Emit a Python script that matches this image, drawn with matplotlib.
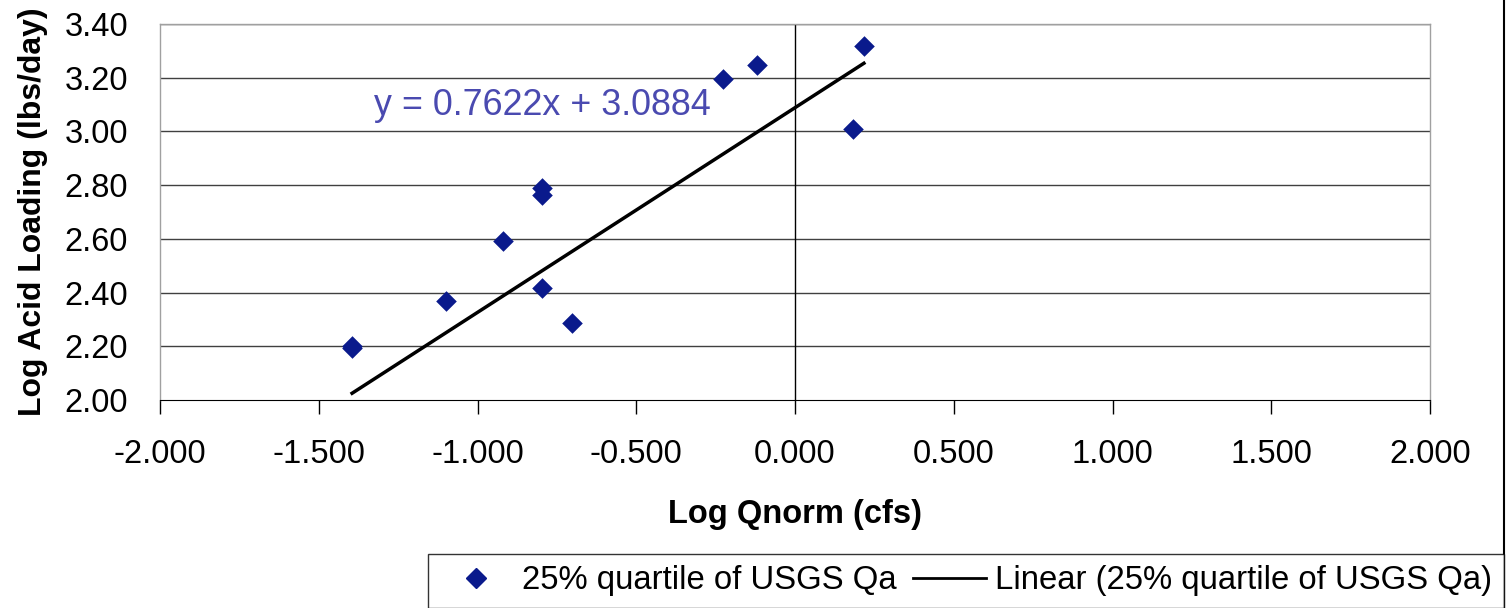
import numpy as np
import matplotlib
matplotlib.use("Agg")
import matplotlib.pyplot as plt
from matplotlib.lines import Line2D

plt.rcParams["font.family"] = ["Liberation Sans", "DejaVu Sans"]

# data
log_q = [-1.395, -1.395, -1.099, -0.921, -0.798, -0.798, -0.798, -0.701,
         -0.226, -0.121, 0.182, 0.217]
log_load = [2.201, 2.194, 2.369, 2.592, 2.788, 2.763, 2.418, 2.286,
            3.195, 3.248, 3.010, 3.319]
slope = 0.7622
intercept = 3.0884

x_ticks = [-2.0, -1.5, -1.0, -0.5, 0.0, 0.5, 1.0, 1.5, 2.0]
y_ticks = [2.0, 2.2, 2.4, 2.6, 2.8, 3.0, 3.2, 3.4]

W, H = 1507, 608
fig = plt.figure(figsize=(W / 100, H / 100), dpi=100)
ax = fig.add_axes([160 / W, 1 - 400 / H, (1430 - 160) / W, (400 - 24) / H])

navy = "#0A1A8C"

# gridlines
for yv in y_ticks[1:]:
    ax.axhline(yv, color="#404040", lw=1.0, zorder=1)
ax.axvline(0, color="black", lw=1.0, zorder=1)

# trendline evaluated at the sorted data x values
xs = np.sort(np.array(log_q))
ax.plot(xs, slope * xs + intercept, color="black", lw=2.5, zorder=2)

ax.scatter(log_q, log_load, marker="D", s=110, color=navy, zorder=3,
           linewidths=0)

ax.text(-1.325, 3.095, "y = 0.7622x + 3.0884", color="#4A4AB0", fontsize=25.8,
        va="center", ha="left")

ax.set_xlim(-2, 2)
ax.set_ylim(2.0, 3.4)
ax.set_xticks(x_ticks)
ax.set_xticklabels([f"{v:.3f}" for v in x_ticks], fontsize=23.5)
ax.set_yticks(y_ticks)
ax.set_yticklabels([f"{v:.2f}" for v in y_ticks], fontsize=23.5)
ax.tick_params(axis="x", length=10, width=1, pad=18, direction="out")
ax.tick_params(axis="y", length=0, pad=23)

for side in ["left", "top", "right"]:
    ax.spines[side].set_color("#A0A0A0")
    ax.spines[side].set_linewidth(1.0)
ax.spines["bottom"].set_color("black")

ax.set_xlabel("Log Qnorm (cfs)", fontsize=23.5, fontweight="bold", labelpad=21)
ax.set_ylabel("Log Acid Loading (lbs/day)", fontsize=23, fontweight="bold",
              labelpad=12)

handles = [
    Line2D([], [], marker="D", color=navy, ls="none", markersize=10),
    Line2D([], [], color="black", lw=2),
]
labels = ["25% quartile of USGS Qa", "Linear (25% quartile of USGS Qa)"]
leg = fig.legend(handles, labels, ncol=2, loc="lower right",
                 bbox_to_anchor=(1504 / W, 0.0), fontsize=23.7, frameon=True,
                 fancybox=False, edgecolor="black", handlelength=2.2,
                 columnspacing=0.5, handletextpad=0.3, borderpad=0.35,
                 borderaxespad=0)
leg.get_frame().set_linewidth(1.0)

# right chart-area border
fig.add_artist(Line2D([1504 / W, 1504 / W], [0, 1], color="black", lw=1.5,
                      transform=fig.transFigure))

fig.savefig("out.png", dpi=100)
